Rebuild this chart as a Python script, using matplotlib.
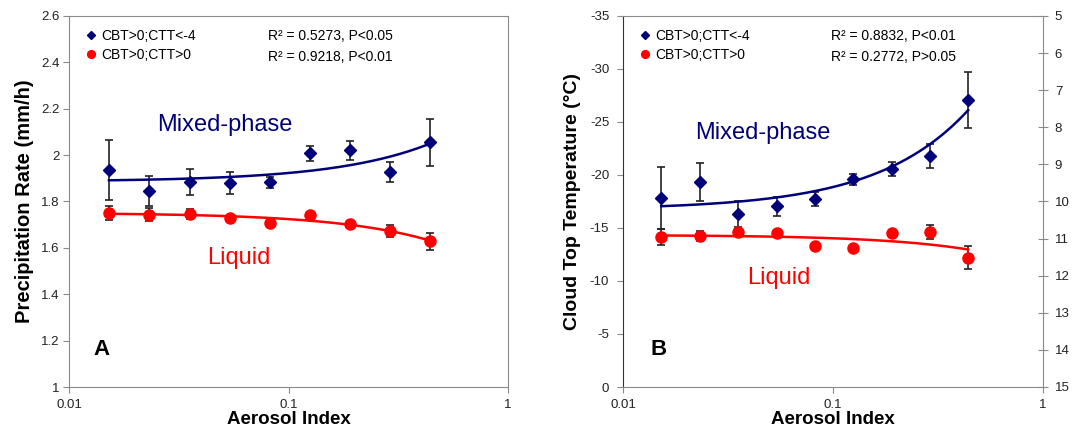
import numpy as np
import matplotlib
matplotlib.use("Agg")
import matplotlib.pyplot as plt
from matplotlib.ticker import FixedLocator, FormatStrFormatter, NullLocator

plt.rcParams['font.family'] = ['Liberation Sans', 'DejaVu Sans']

# Aerosol index bins (same for both panels)
aerosol = [0.0152, 0.0232, 0.0354, 0.054, 0.082, 0.125, 0.19, 0.29, 0.44]

# Panel A: precipitation rate (mm/h)
rate_mixed = [1.935, 1.845, 1.883, 1.880, 1.883, 2.008, 2.022, 1.927, 2.055]
rate_mixed_err = [0.13, 0.065, 0.057, 0.047, 0.023, 0.033, 0.041, 0.045, 0.10]
rate_liquid = [1.749, 1.743, 1.746, 1.730, 1.709, 1.740, 1.702, 1.673, 1.628]
rate_liquid_err = [0.03, 0.028, 0.02, 0.01, 0.006, 0.005, 0.008, 0.025, 0.037]

# Panel B: cloud top temperature (C)
ctt_mixed = [-17.83, -19.37, -16.32, -17.04, -17.74, -19.59, -20.57, -21.82, -27.08]
ctt_mixed_err = [2.9, 1.8, 1.2, 0.9, 0.63, 0.55, 0.7, 1.15, 2.6]
ctt_liquid = [-14.12, -14.21, -14.65, -14.5, -13.30, -13.08, -14.5, -14.62, -12.2]
ctt_liquid_err = [0.75, 0.47, 0.3, 0.1, 0.0, 0.0, 0.15, 0.7, 1.1]

labels = ['CBT>0;CTT<-4', 'CBT>0;CTT>0']
stats_a = ['R² = 0.5273, P<0.05', 'R² = 0.9218, P<0.01']
stats_b = ['R² = 0.8832, P<0.01', 'R² = 0.2772, P>0.05']

NAVY = '#00007a'
RED = '#ff0000'
GRAY = '#8a8a8a'


def draw(ax, y1, e1, y2, e2):
    x = np.array(aerosol)
    xf = np.linspace(x.min(), x.max(), 200)
    for y, e, c, m, ms, lab in [(y1, e1, NAVY, 'D', 6, labels[0]),
                                (y2, e2, RED, 'o', 8, labels[1])]:
        ax.errorbar(x, y, yerr=e, fmt='none', ecolor='#222222',
                    elinewidth=1.2, capsize=3, capthick=1.2, zorder=2)
        # linear trend line (Excel-style), shown on the log axis
        p = np.polyfit(x, y, 1)
        ax.plot(xf, np.polyval(p, xf), color=c, lw=1.8, zorder=3)
        ax.plot(x, y, m, color=c, ms=ms, mec=c, zorder=4, label=lab)
    ax.set_xscale('log')
    ax.set_xlim(0.01, 1)
    ax.xaxis.set_major_locator(FixedLocator([0.01, 0.1, 1]))
    ax.xaxis.set_major_formatter(FormatStrFormatter('%g'))
    ax.xaxis.set_minor_locator(NullLocator())
    ax.set_xlabel('Aerosol Index', fontsize=13.5, fontweight='bold', labelpad=0)
    ax.tick_params(axis='x', direction='out', length=4, pad=5,
                   color=GRAY, labelsize=9.5, labelcolor='#222222')
    ax.tick_params(axis='y', direction='out', length=4, pad=3,
                   color=GRAY, labelsize=9.5, labelcolor='#222222')
    for s in ax.spines.values():
        s.set_color(GRAY)
    ax.legend(loc='upper left', bbox_to_anchor=(0.01, 0.995), frameon=False,
              handlelength=0.9, handletextpad=0.3, labelspacing=0.35,
              fontsize=10, numpoints=1, markerscale=0.7, borderpad=0.3)


fig = plt.figure(figsize=(10.72, 4.30), dpi=100)

# Panel A
axA = fig.add_axes([0.0644, 0.1, 0.4095, 0.8628])
draw(axA, rate_mixed, rate_mixed_err, rate_liquid, rate_liquid_err)
axA.set_ylim(1, 2.6)
axA.yaxis.set_major_locator(FixedLocator(np.arange(1, 2.61, 0.2)))
axA.yaxis.set_major_formatter(FormatStrFormatter('%g'))
axA.set_ylabel('Precipitation Rate (mm/h)', fontsize=14.5, fontweight='bold', labelpad=5)
axA.text(0.453, 0.946, stats_a[0], transform=axA.transAxes, fontsize=10, va='center')
axA.text(0.453, 0.889, stats_a[1], transform=axA.transAxes, fontsize=10, va='center')
axA.text(0.2, 0.706, 'Mixed-phase', transform=axA.transAxes, fontsize=17,
         color=NAVY, va='center')
axA.text(0.314, 0.348, 'Liquid', transform=axA.transAxes, fontsize=17,
         color=RED, va='center')
axA.text(0.055, 0.1, 'A', transform=axA.transAxes, fontsize=16,
         fontweight='bold', va='center')

# Panel B
axB = fig.add_axes([0.5812, 0.1, 0.3918, 0.8628])
draw(axB, ctt_mixed, ctt_mixed_err, ctt_liquid, ctt_liquid_err)
axB.set_ylim(0, -35)
axB.yaxis.set_major_locator(FixedLocator(np.arange(0, -36, -5)))
axB.yaxis.set_major_formatter(FormatStrFormatter('%g'))
axB.tick_params(axis='y', pad=6)
axB.spines['left'].set_color('#333333')
axB.set_ylabel('Cloud Top Temperature (°C)', fontsize=14, fontweight='bold', labelpad=6)
axB.text(0.495, 0.946, stats_b[0], transform=axB.transAxes, fontsize=10, va='center')
axB.text(0.495, 0.889, stats_b[1], transform=axB.transAxes, fontsize=10, va='center')
axB.text(0.171, 0.685, 'Mixed-phase', transform=axB.transAxes, fontsize=17,
         color=NAVY, va='center')
axB.text(0.295, 0.294, 'Liquid', transform=axB.transAxes, fontsize=17,
         color=RED, va='center')
axB.text(0.065, 0.1, 'B', transform=axB.transAxes, fontsize=16,
         fontweight='bold', va='center')

# secondary scale on the right of panel B
axR = axB.twinx()
axR.set_ylim(15, 5)
axR.yaxis.set_major_locator(FixedLocator(range(5, 16)))
axR.tick_params(axis='y', direction='inout', length=7, pad=5, color=GRAY,
                labelsize=9.5, labelcolor='#222222')
for s in axR.spines.values():
    s.set_visible(False)

fig.savefig('out.png', dpi=100)
